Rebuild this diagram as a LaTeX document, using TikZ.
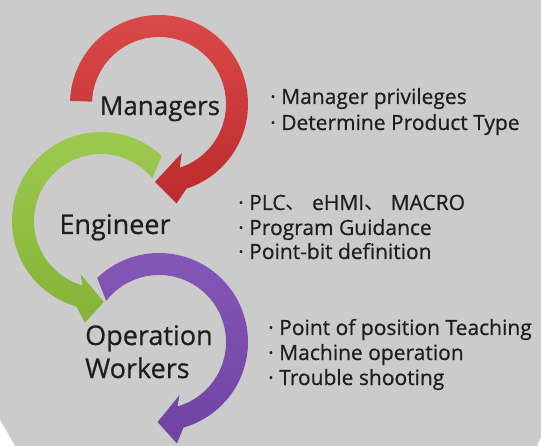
\documentclass[tikz,border=0pt]{standalone}
\usepackage{fontspec}
\setmainfont{Open Sans}[FakeBold=0.6]
\newfontfamily\cjk{Noto Sans CJK SC}
\usepackage{tikz}

\definecolor{bggrey}{HTML}{CBCBCB}
\definecolor{ink}{HTML}{1E1E1E}
\definecolor{redlight}{HTML}{DA4A48}
\definecolor{reddark}{HTML}{BC2A2C}
\definecolor{greenlight}{HTML}{9ECA52}
\definecolor{greendark}{HTML}{84B338}
\definecolor{purplelight}{HTML}{8558B8}
\definecolor{purpledark}{HTML}{7043A2}

\begin{document}
\begin{tikzpicture}[x=1pt, y=-1pt,
  role/.style = {font=\fontsize{27}{33}\selectfont, text=ink, inner sep=0pt},
  item/.style = {font=\fontsize{21}{25}\selectfont, text=ink, inner sep=0pt, anchor=base west},
  redband/.style = {top color=redlight, bottom color=reddark},
  greenband/.style = {top color=greenlight, bottom color=greendark},
  purpleband/.style = {top color=purplelight, bottom color=purpledark}]
\useasboundingbox (0,0) rectangle (541,446);
\fill[bggrey] (0,0) rectangle (541,446);
\fill[white] (0,420) -- (15,446) -- (0,446) -- cycle;
\fill[white] (537,446) -- (541,437) -- (541,446) -- cycle;

% curved arrows, drawn around their own centres
\shade[redband, shift={(159,104)}] (182:89) arc[start angle=182, end angle=432, radius=89] -- (440:101) -- (453:78) -- (425:54) -- (432:67) arc[start angle=432, end angle=182, radius=67] -- cycle;
\shade[greenband, shift={(101,221)}] (313:89) arc[start angle=313, end angle=106, radius=89] -- (99:103) -- (88:81) -- (111:57) -- (106:67) arc[start angle=106, end angle=320, radius=67] -- cycle;
\shade[purpleband, shift={(159,342)}] (226:89) arc[start angle=226, end angle=434, radius=89] -- (440:103) -- (451:80) -- (429:57) -- (434:67) arc[start angle=434, end angle=218, radius=67] -- cycle;

% roles
\node[role, anchor=base, font=\fontsize{26}{33}\selectfont] (mgr) at (160,115) {Managers};
\node[role, anchor=base] (eng) at (115,234) {Engineer};
\node[role, align=left, anchor=north west] (ops) at (85,325) {Operation\\Workers};

% duties
\node[item] (mgr1) at (270,104) {· Manager privileges};
\node[item] (mgr2) at (270,130) {· Determine Product Type};
\node[item] (eng1) at (238,210) {· PLC{\cjk 、} eHMI{\cjk 、} MACRO};
\node[item] (eng2) at (238,235) {· Program Guidance};
\node[item] (eng3) at (238,259) {· Point-bit definition};
\node[item] (ops1) at (268,335) {· Point of position Teaching};
\node[item] (ops2) at (268,360) {· Machine operation};
\node[item] (ops3) at (268,385) {· Trouble shooting};
\end{tikzpicture}
\end{document}
